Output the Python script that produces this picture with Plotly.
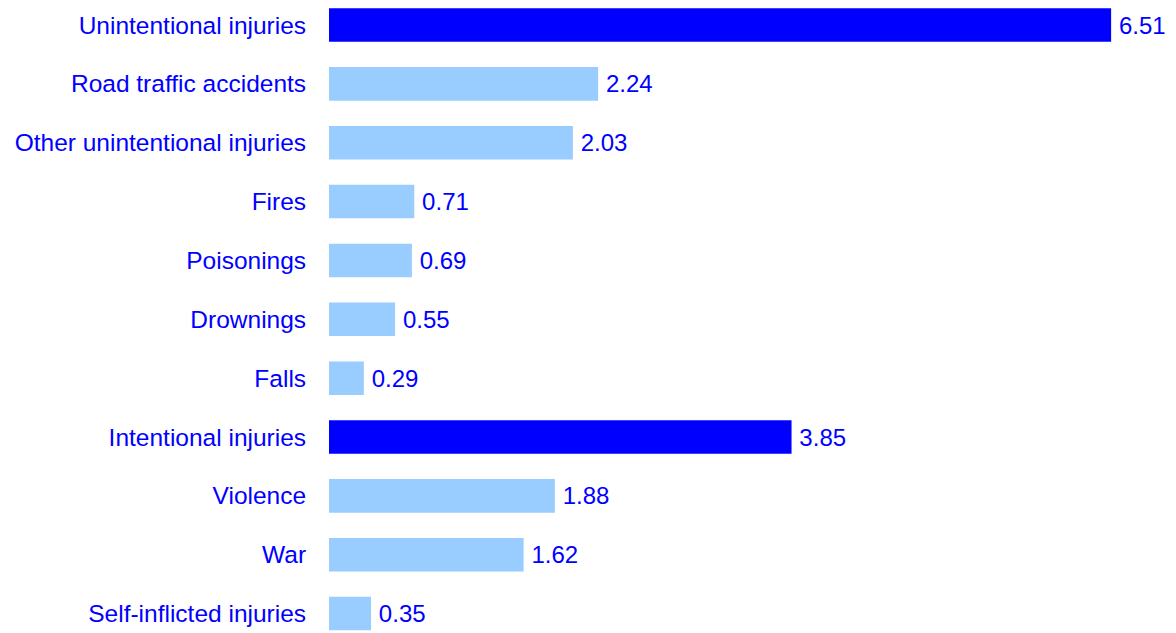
import plotly.graph_objects as go

categories = ["Unintentional injuries", "Road traffic accidents", "Other unintentional injuries",
              "Fires", "Poisonings", "Drownings", "Falls", "Intentional injuries",
              "Violence", "War", "Self-inflicted injuries"]
values = [6.51, 2.24, 2.03, 0.71, 0.69, 0.55, 0.29, 3.85, 1.88, 1.62, 0.35]
is_total = [True, False, False, False, False, False, False, True, False, False, False]

DARK = "#0000FF"
LIGHT = "#99CCFF"
colors = [DARK if t else LIGHT for t in is_total]

fig = go.Figure(go.Bar(
    x=values, y=categories, orientation="h",
    marker=dict(color=colors, line=dict(width=0)),
    width=0.57,
    text=[f"\u2009{v:.2f}" for v in values],
    textposition="outside",
    textfont=dict(family="Liberation Sans, Arial", size=24, color="#0000FF"),
    cliponaxis=False,
))

fig.update_layout(
    width=1168, height=625,
    margin=dict(l=321, r=0, t=0, b=0, autoexpand=False),
    plot_bgcolor="white", paper_bgcolor="white",
    showlegend=False,
    font=dict(family="Liberation Sans, Arial", size=24, color="#0000FF"),
    xaxis=dict(range=[0, 7.05], visible=False, showgrid=False, zeroline=False, automargin=False),
    yaxis=dict(range=[10.33, -0.289], showgrid=False, zeroline=False, showline=False,
               automargin=False,
               ticks="outside", ticklen=17, tickcolor="rgba(0,0,0,0)",
               tickfont=dict(family="Liberation Sans, Arial", size=24.5, color="#0000FF")),
)

fig.write_html("out.html")
